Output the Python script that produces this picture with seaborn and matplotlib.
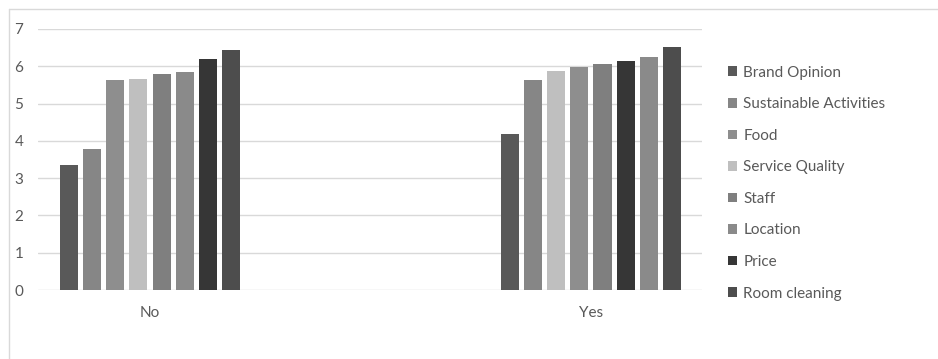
import matplotlib
matplotlib.use('Agg')
import matplotlib.pyplot as plt
import seaborn as sns
import pandas as pd
from matplotlib.patches import Patch
from matplotlib.lines import Line2D

# ---- data ----
groups = ['No', 'Yes']
categories = ['Brand Opinion', 'Sustainable Activities', 'Food', 'Service Quality',
              'Staff', 'Location', 'Price', 'Room cleaning']
no_values = [3.35, 3.79, 5.63, 5.67, 5.80, 5.85, 6.19, 6.44]
yes_values = [4.18, 5.63, 5.99, 5.87, 6.05, 6.26, 6.14, 6.53]
# bar order within each group (as drawn in the reference)
no_order = ['Brand Opinion', 'Sustainable Activities', 'Food', 'Service Quality',
            'Staff', 'Location', 'Price', 'Room cleaning']
yes_order = ['Brand Opinion', 'Sustainable Activities', 'Service Quality', 'Food',
             'Staff', 'Price', 'Location', 'Room cleaning']
y_ticks = [0, 1, 2, 3, 4, 5, 6, 7]

# ---- styles ----
colors = {
    'Brand Opinion': '#595959',
    'Sustainable Activities': '#868686',
    'Food': '#8e8e8e',
    'Service Quality': '#bfbfbf',
    'Staff': '#7f7f7f',
    'Location': '#8a8a8a',
    'Price': '#363636',
    'Room cleaning': '#4d4d4d',
}
text_color = '#595959'
grid_color = '#d9d9d9'

sns.set_style('white')
plt.rcParams['font.family'] = ['Lato', 'DejaVu Sans']

vals = {'No': dict(zip(categories, no_values)), 'Yes': dict(zip(categories, yes_values))}
orders = {'No': no_order, 'Yes': yes_order}
rows = []
for g in groups:
    for i, c in enumerate(orders[g]):
        rows.append({'group': g, 'slot': f's{i}', 'category': c, 'value': vals[g][c]})
df = pd.DataFrame(rows)
slots = [f's{i}' for i in range(len(categories))]

W, H = 938, 359
fig = plt.figure(figsize=(W / 100, H / 100), dpi=100)
ax = fig.add_axes([38 / W, 1 - 290 / H, (702 - 38) / W, (290 - 29) / H])

sns.barplot(data=df, x='group', y='value', hue='slot', order=groups, hue_order=slots,
            palette=['#888888'] * len(slots), width=0.4216, gap=0.22, errorbar=None,
            saturation=1, edgecolor='none', legend=False, ax=ax)

for i, cont in enumerate(ax.containers):
    for j, bar in enumerate(cont):
        g = groups[j]
        bar.set_facecolor(colors[orders[g][i]])
        bar.set_edgecolor('none')

ax.set_ylim(0, 7)
ax.set_yticks(y_ticks)
ax.set_xlim(-0.254, 1.252)
ax.set_xlabel('')
ax.set_ylabel('')
ax.yaxis.grid(True, color=grid_color, lw=1)
ax.xaxis.grid(False)
ax.set_axisbelow(True)
for s in ax.spines.values():
    s.set_visible(False)
ax.tick_params(axis='both', length=0, labelsize=11, labelcolor=text_color)
ax.tick_params(axis='x', pad=11.5)
for lab in ax.get_yticklabels():
    lab.set_horizontalalignment('left')
ax.tick_params(axis='y', pad=17)

handles = [Patch(facecolor=colors[c], edgecolor='none', label=c) for c in categories]
fig.legend(handles=handles, loc='upper left', bbox_to_anchor=(722 / W, 1 - 59.5 / H),
           frameon=False, fontsize=11, labelcolor=text_color, handlelength=0.6,
           handleheight=0.6, handletextpad=0.4, labelspacing=1.15, borderaxespad=0)

fig.add_artist(Line2D([9 / W, 1], [1 - 9 / H, 1 - 9 / H], color=grid_color, lw=1,
                      transform=fig.transFigure))
fig.add_artist(Line2D([9 / W, 9 / W], [0, 1 - 9 / H], color=grid_color, lw=1,
                      transform=fig.transFigure))

fig.savefig('out.png', dpi=100)
